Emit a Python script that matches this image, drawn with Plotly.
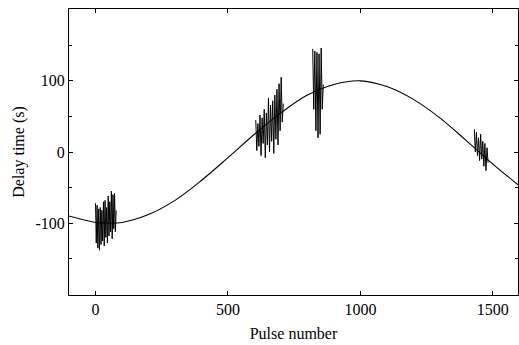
import plotly.graph_objects as go

# Model curve
curve_x = [-100, 0, 50, 100, 200, 300, 400, 500, 600, 700, 800, 900, 1000, 1100, 1200, 1300, 1400, 1500, 1595]
curve_y = [-90, -99, -100, -99, -88, -68, -40, -8, 25, 55, 80, 95, 100, 92, 74, 48, 16, -17, -46]

# Measured pulse delays (zig-zag clusters)
c1_x = [0, 3, 6, 9, 12, 15, 18, 21, 24, 27, 30, 33, 36, 39, 42, 45, 48, 51, 54, 57, 60, 63, 66, 69, 72, 75, 78]
c1_y = [-72, -128, -75, -135, -80, -138, -78, -130, -82, -125, -70, -132, -68, -120, -78, -128, -62, -118, -70, -112,
        -55, -122, -60, -108, -58, -112, -82]

c2_x = [605, 609, 613, 617, 621, 625, 629, 633, 637, 641, 645, 649, 653, 657, 661, 665, 669, 673, 677, 681,
        685, 689, 693, 697, 701, 705, 709]
c2_y = [45, 2, 40, 8, 52, -5, 48, 12, 60, -8, 55, 10, 76, 0, 66, 15, 72, -2, 80, 18, 88, 10, 96, 30, 105, 42, 68]

c3_x = [820, 824, 828, 832, 836, 840, 844, 848, 852, 856, 860]
c3_y = [145, 60, 142, 30, 140, 20, 138, 25, 146, 60, 95]

c4_x = [1430, 1434, 1438, 1442, 1446, 1450, 1454, 1458, 1462, 1466, 1470, 1474, 1478, 1482]
c4_y = [32, 0, 28, -5, 20, -12, 25, -10, 15, -20, 12, -26, 6, -15]

y_ticks = [-100, 0, 100]
y_labels = ["-100", "0", "100"]
x_ticks = [0, 500, 1000, 1500]
x_labels = ["0", "500", "1000", "1500"]

fig = go.Figure()
line_style = dict(color="black", width=1)
fig.add_trace(go.Scatter(x=curve_x, y=curve_y, mode="lines", line=dict(color="black", width=1.1, shape="spline"),
                         showlegend=False, hoverinfo="skip"))
for cx, cy in [(c1_x, c1_y), (c2_x, c2_y), (c3_x, c3_y), (c4_x, c4_y)]:
    fig.add_trace(go.Scatter(x=cx, y=cy, mode="lines", line=line_style, showlegend=False))

font = dict(family="Liberation Serif, Times New Roman, serif", size=16, color="black")

fig.update_layout(
    width=519, height=345,
    margin=dict(l=69, r=1, t=9, b=50),
    paper_bgcolor="white", plot_bgcolor="white",
    font=font,
    showlegend=False,
)
fig.update_xaxes(
    range=[-100, 1595], tickvals=x_ticks, ticktext=x_labels,
    showline=True, mirror="ticks", linecolor="black", linewidth=1,
    ticks="inside", ticklen=4, tickcolor="black",
    showgrid=False, zeroline=False,
    title=dict(text="Pulse number", font=dict(size=16), standoff=10),
)
fig.update_yaxes(
    range=[-201, 201], tickvals=y_ticks, ticktext=y_labels,
    showline=True, mirror="ticks", linecolor="black", linewidth=1,
    ticks="inside", ticklen=4, tickcolor="black",
    minor=dict(tickvals=[-150, -50, 50, 150], ticks="inside", ticklen=3, tickcolor="black"),
    showgrid=False, zeroline=False,
    title=dict(text="Delay time (s)", font=dict(size=16), standoff=6),
)

fig.write_html("out.html", config={"displayModeBar": False},
               post_script="document.body.style.margin='0';document.body.style.overflow='hidden';")
